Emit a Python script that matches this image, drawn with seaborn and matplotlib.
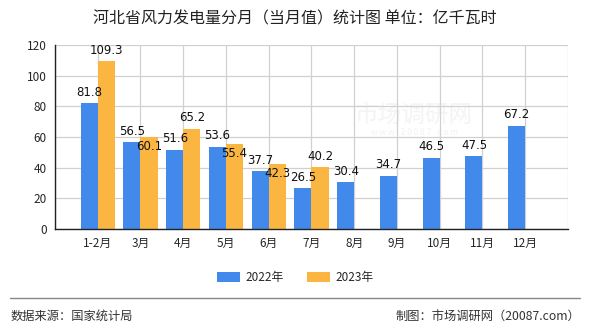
import matplotlib
matplotlib.use("Agg")
import matplotlib.pyplot as plt
from matplotlib.patches import Patch
import seaborn as sns
import pandas as pd
import numpy as np

months = ["1-2月", "3月", "4月", "5月", "6月", "7月", "8月", "9月", "10月", "11月", "12月"]
values_2022 = [81.8, 56.5, 51.6, 53.6, 37.7, 26.5, 30.4, 34.7, 46.5, 47.5, 67.2]
values_2023 = [109.3, 60.1, 65.2, 55.4, 42.3, 40.2, None, None, None, None, None]
series = ["2022年", "2023年"]
colors = ["#418AEB", "#FBB541"]

sns.set_theme(style="white")
plt.rcParams["font.family"] = ["Noto Sans CJK SC", "DejaVu Sans"]

df = pd.DataFrame({
    "month": months * 2,
    "year": [series[0]] * len(months) + [series[1]] * len(months),
    "value": values_2022 + [np.nan if v is None else v for v in values_2023],
})

fig = plt.figure(figsize=(5.9, 3.3), dpi=100)
ax = fig.add_axes([0.0932, 0.306, 0.8695, 0.558])

sns.barplot(data=df, x="month", y="value", hue="year", order=months,
            hue_order=series, palette=colors, width=0.8, saturation=1,
            gap=0, linewidth=0, edgecolor="none", ax=ax, legend=False)

ax.set_xlim(-1, len(months))
ax.set_ylim(0, 120)
ax.set_yticks(range(0, 121, 20))
ax.set_xticks(range(-1, len(months) + 1))
ax.set_xticklabels([""] + months + [""], fontsize=8.5)
ax.tick_params(axis="y", labelsize=8.5, length=4, width=0.8, pad=2, color="#333333")
ax.tick_params(axis="x", length=4, width=0.8, pad=2, color="#333333")
ax.set_xlabel("")
ax.set_ylabel("")

ax.grid(True, color="#d0d0d0", linewidth=0.9)
ax.set_axisbelow(True)
for side in ["top", "right"]:
    ax.spines[side].set_visible(False)
for side in ["left", "bottom"]:
    ax.spines[side].set_color("#222222")
    ax.spines[side].set_linewidth(1.0)

# faint site watermark
ax.text(7.4, 74, "市场调研网", fontsize=17, color="#f4f4f4", ha="center", va="center", zorder=0)
ax.text(7.4, 63, "w w w . 2 0 0 8 7 . c o m", fontsize=6, color="#f2f2f2", ha="center", va="center", zorder=0)

# value labels
w = 0.2
label_kw = dict(ha="center", fontsize=8.5, color="#111111", family="DejaVu Sans")
for i, v in enumerate(values_2022):
    ax.text(i - w, v + 3, f"{v:.1f}", va="bottom", **label_kw)
for i, v in enumerate(values_2023):
    if v is None:
        continue
    if abs(v - values_2022[i]) < 8:
        ax.text(i + w, v - 2, f"{v:.1f}", va="top", **label_kw)
    else:
        ax.text(i + w, v + 3, f"{v:.1f}", va="bottom", **label_kw)

fig.text(0.5, 0.942, "河北省风力发电量分月（当月值）统计图 单位：亿千瓦时",
         ha="center", va="center", fontsize=11.5, color="#222222")

# legend
handles = [Patch(facecolor=c, edgecolor="none") for c in colors]
fig.legend(handles, series, loc="center", bbox_to_anchor=(0.5, 0.16), ncol=2,
           frameon=False, fontsize=8.5, handlelength=2.0, handleheight=0.9,
           columnspacing=2.0, handletextpad=0.4)

fig.add_artist(plt.Line2D([0.017, 0.983], [0.097, 0.097], color="#888888", linewidth=1.0))
fig.text(0.017, 0.042, "数据来源：国家统计局", ha="left", va="center", fontsize=8.8, color="#333333")
fig.text(0.983, 0.042, "制图：市场调研网（20087.com）", ha="right", va="center", fontsize=8.8, color="#333333")

fig.savefig("out.png", dpi=100)
